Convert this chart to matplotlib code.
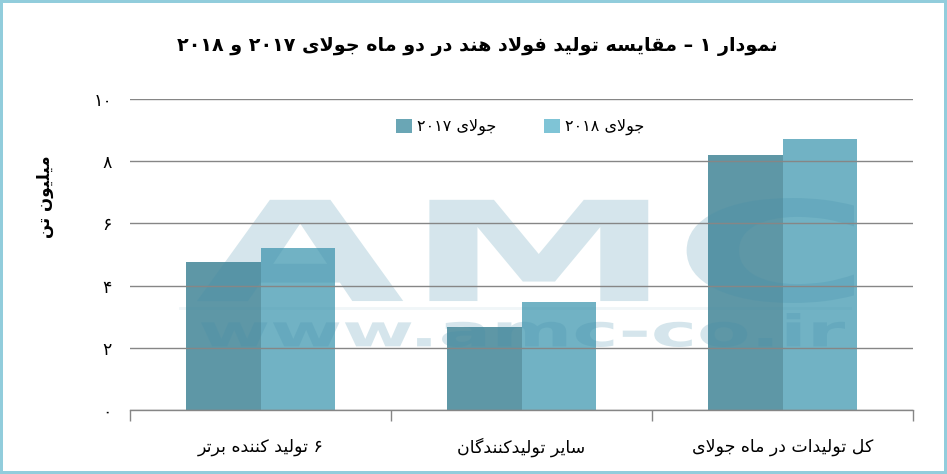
import matplotlib
matplotlib.use("Agg")
import matplotlib.pyplot as plt
import numpy as np
from matplotlib.textpath import TextPath
from matplotlib.patches import PathPatch, Patch
from matplotlib.lines import Line2D
from matplotlib.font_manager import FontProperties
from matplotlib.transforms import Affine2D, IdentityTransform
from matplotlib.ticker import FixedLocator

# ---------------- data ----------------
categories = ["۶ تولید کننده برتر", "سایر تولیدکنندگان", "کل تولیدات در ماه جولای"]
series_names = ["جولای ۲۰۱۷", "جولای ۲۰۱۸"]
values_2017 = [4.76, 2.68, 8.2]
values_2018 = [5.21, 3.47, 8.71]
y_ticks = [0, 2, 4, 6, 8, 10]
y_tick_labels = ["۰", "۲", "۴", "۶", "۸", "۱۰"]
title_text = "نمودار ۱ – مقایسه تولید فولاد هند در دو ماه جولای ۲۰۱۷ و ۲۰۱۸"
ylabel_text = "میلیون تن"

# ---------------- simple Arabic/Persian shaping ----------------
FORMS = {
    '\u0627': ('\uFE8D', '\uFE8E', None, None),
    '\u0622': ('\uFE81', '\uFE82', None, None),
    '\u0628': ('\uFE8F', '\uFE90', '\uFE91', '\uFE92'),
    '\u067E': ('\uFB56', '\uFB57', '\uFB58', '\uFB59'),
    '\u062A': ('\uFE95', '\uFE96', '\uFE97', '\uFE98'),
    '\u062C': ('\uFE9D', '\uFE9E', '\uFE9F', '\uFEA0'),
    '\u062F': ('\uFEA9', '\uFEAA', None, None),
    '\u0631': ('\uFEAD', '\uFEAE', None, None),
    '\u0633': ('\uFEB1', '\uFEB2', '\uFEB3', '\uFEB4'),
    '\u0641': ('\uFED1', '\uFED2', '\uFED3', '\uFED4'),
    '\u0642': ('\uFED5', '\uFED6', '\uFED7', '\uFED8'),
    '\u06A9': ('\uFB8E', '\uFB8F', '\uFB90', '\uFB91'),
    '\u06AF': ('\uFB92', '\uFB93', '\uFB94', '\uFB95'),
    '\u0644': ('\uFEDD', '\uFEDE', '\uFEDF', '\uFEE0'),
    '\u0645': ('\uFEE1', '\uFEE2', '\uFEE3', '\uFEE4'),
    '\u0646': ('\uFEE5', '\uFEE6', '\uFEE7', '\uFEE8'),
    '\u0647': ('\uFEE9', '\uFEEA', '\uFEEB', '\uFEEC'),
    '\u0648': ('\uFEED', '\uFEEE', None, None),
    '\u06CC': ('\uFBFC', '\uFBFD', '\uFBFE', '\uFBFF'),
}


def _dual(c):
    return c in FORMS and FORMS[c][2] is not None


def rtl(s):
    units = []
    i = 0
    while i < len(s):
        c = s[i]
        if c == '\u0644' and i + 1 < len(s) and s[i + 1] in ('\u0627', '\u0622'):
            units.append('LA')
            i += 2
        else:
            units.append(c)
            i += 1
    out = []
    for k, u in enumerate(units):
        prev = units[k - 1] if k > 0 else None
        nxt = units[k + 1] if k + 1 < len(units) else None
        prev_j = prev is not None and prev != 'LA' and _dual(prev)
        if u == 'LA':
            out.append('\uFEFC' if prev_j else '\uFEFB')
            continue
        if u not in FORMS:
            out.append(u)
            continue
        next_j = _dual(u) and nxt is not None and (nxt == 'LA' or nxt in FORMS)
        iso, fin, ini, med = FORMS[u]
        if prev_j and next_j:
            out.append(med)
        elif prev_j:
            out.append(fin)
        elif next_j:
            out.append(ini)
        else:
            out.append(iso)
    # visual order: reverse, but keep digit runs left-to-right
    def isdigit(ch):
        return ('\u06F0' <= ch <= '\u06F9') or ch.isdigit()
    runs = []
    for ch in out:
        d = isdigit(ch)
        if runs and runs[-1][0] == d:
            runs[-1][1].append(ch)
        else:
            runs.append([d, [ch]])
    res = []
    for d, chars in reversed(runs):
        res.extend(chars if d else reversed(chars))
    return "".join(res)


# ---------------- figure ----------------
W, H = 947, 474
plt.rcParams['font.family'] = ['DejaVu Sans']
fig = plt.figure(figsize=(W / 100, H / 100), dpi=100)
fig.patch.set_facecolor("white")
fig.patch.set_edgecolor("#92CDDC")
fig.patch.set_linewidth(3)

ax = fig.add_axes([130 / W, (H - 410) / H, 783 / W, 311 / H])

c2017 = "#5E97A6"
c2018 = "#71B2C4"
x = np.arange(len(categories))
bw = 0.285
ax.bar(x - bw / 2, values_2017, width=bw, color=c2017, zorder=1)
ax.bar(x + bw / 2, values_2018, width=bw, color=c2018, zorder=1)

ax.set_xlim(-0.5, len(categories) - 0.5)
ax.set_ylim(0, 10)
ax.set_axisbelow(False)
ax.yaxis.grid(True, color="#868686", linewidth=1.0)
ax.xaxis.grid(False)
for s in ["left", "right", "top"]:
    ax.spines[s].set_visible(False)
ax.spines["bottom"].set_color("#868686")
ax.spines["bottom"].set_linewidth(1.0)
ax.spines["bottom"].set_zorder(3)

ax.set_yticks(y_ticks)
ax.set_yticklabels(y_tick_labels, fontsize=12.5)
ax.tick_params(axis="y", length=0, pad=13)

ax.set_xticks(x)
ax.set_xticklabels([rtl(c) for c in categories], fontsize=12.5)
ax.tick_params(axis="x", which="major", length=0, pad=20)
ax.xaxis.set_minor_locator(FixedLocator(np.arange(-0.5, len(categories), 1.0)))
ax.tick_params(axis="x", which="minor", length=8, color="#868686", width=1.0, direction="out")

# legend
handles = [Patch(facecolor="#6AA6B5", edgecolor="none"), Patch(facecolor="#7FC4D6", edgecolor="none")]
ax.legend(handles, [rtl(s) for s in series_names], ncol=2, loc="center",
          bbox_to_anchor=((520 - 130) / 783, (410 - 127) / 311), frameon=False,
          fontsize=11.5, handlelength=1.0, handleheight=1.0, columnspacing=3.0, handletextpad=0.3)

# title and y label
fig.text(477 / W, 1 - 46 / H, rtl(title_text), ha="center", va="center",
         fontsize=13.8, fontweight="bold")
fig.text(45 / W, 1 - 197 / H, rtl(ylabel_text), ha="center", va="center",
         rotation=90, fontsize=12, fontweight="bold")


# ---------------- watermark ----------------
WM_COLOR = "#408DA9"
WM_ALPHA = 0.22


def stretched(s, x0, x1, y0, y1, fp, z):
    tp = TextPath((0, 0), s, size=100, prop=fp)
    ext = tp.get_extents()
    sx = (x1 - x0) / ext.width
    sy = (y1 - y0) / ext.height
    tr = Affine2D().translate(-ext.x0, -ext.y0).scale(sx, sy).translate(x0, H - y1)
    path = tr.transform_path(tp)
    patch = PathPatch(path, transform=IdentityTransform(), facecolor=WM_COLOR,
                      edgecolor="none", alpha=WM_ALPHA, zorder=z, clip_on=False)
    ax.add_artist(patch)


wm_fp = FontProperties(family="DejaVu Sans", weight="bold")
stretched("AMC", 197, 854, 198, 303, wm_fp, 2)
stretched("www.amc-co.ir", 201, 845, 313, 347, wm_fp, 2)
ax.add_artist(Line2D([180, 850], [H - 308, H - 308], transform=IdentityTransform(),
                     color=WM_COLOR, alpha=0.08, linewidth=2, zorder=2, clip_on=False))

fig.savefig("out.png", dpi=100)
